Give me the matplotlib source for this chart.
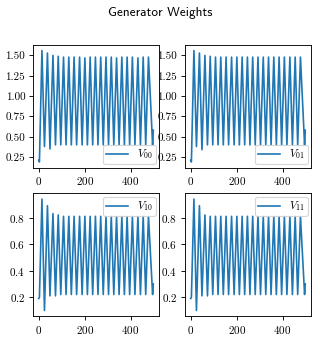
import matplotlib
matplotlib.use('Agg')
import matplotlib.pyplot as plt
from matplotlib.ticker import MultipleLocator, FormatStrFormatter

plt.rcParams['font.family'] = ['cmr10']
plt.rcParams['mathtext.fontset'] = 'cm'
plt.rcParams['axes.formatter.use_mathtext'] = True

# training steps at the turning points of the weight curves
steps = [0, 3, 14, 25, 38, 49, 62, 73, 85, 96, 108, 119, 131, 142, 154, 165,
         178, 189, 201, 212, 224, 235, 247, 258, 270, 281, 293, 304, 316, 327,
         339, 350, 362, 373, 385, 396, 408, 419, 432, 443, 455, 466, 478, 496, 499]

v00 = [0.21, 0.19,
       1.56, 0.38, 1.53, 0.35, 1.50, 0.40, 1.49, 0.40, 1.48, 0.40, 1.48, 0.40,
       1.48, 0.40, 1.48, 0.40, 1.47, 0.40, 1.48, 0.40, 1.48, 0.40, 1.48, 0.40,
       1.48, 0.40, 1.48, 0.40, 1.47, 0.40, 1.48, 0.40, 1.48, 0.40, 1.48, 0.40,
       1.47, 0.40, 1.48, 0.40, 1.48, 0.40,
       0.58]
v01 = [0.21, 0.19,
       1.56, 0.38, 1.53, 0.34, 1.50, 0.40, 1.49, 0.40, 1.48, 0.40, 1.48, 0.40,
       1.48, 0.40, 1.48, 0.40, 1.48, 0.40, 1.48, 0.40, 1.48, 0.40, 1.48, 0.40,
       1.48, 0.40, 1.48, 0.40, 1.48, 0.40, 1.48, 0.40, 1.48, 0.40, 1.48, 0.40,
       1.48, 0.40, 1.48, 0.40, 1.48, 0.40,
       0.58]
v10 = [0.19, 0.20,
       0.94, 0.10, 0.89, 0.21, 0.83, 0.21, 0.82, 0.22, 0.81, 0.22, 0.81, 0.22,
       0.81, 0.22, 0.81, 0.22, 0.81, 0.22, 0.81, 0.22, 0.81, 0.22, 0.81, 0.22,
       0.81, 0.22, 0.81, 0.22, 0.81, 0.22, 0.81, 0.22, 0.81, 0.22, 0.81, 0.22,
       0.81, 0.22, 0.81, 0.22, 0.81, 0.22,
       0.30]
v11 = [0.19, 0.20,
       0.94, 0.10, 0.89, 0.21, 0.82, 0.21, 0.81, 0.22, 0.81, 0.22, 0.81, 0.22,
       0.81, 0.22, 0.81, 0.22, 0.81, 0.22, 0.81, 0.22, 0.81, 0.22, 0.81, 0.22,
       0.81, 0.22, 0.81, 0.22, 0.81, 0.22, 0.81, 0.22, 0.81, 0.22, 0.81, 0.22,
       0.81, 0.22, 0.81, 0.22, 0.81, 0.22,
       0.30]

series = [v00, v01, v10, v11]
labels = [r'$V_{00}$', r'$V_{01}$', r'$V_{10}$', r'$V_{11}$']
legend_locs = ['lower right', 'lower right', 'upper right', 'upper right']

fig, axes = plt.subplots(2, 2, figsize=(4, 4.25), dpi=80)
fig.subplots_adjust(left=33/320, right=311/320, top=1-45/340, bottom=1-316/340,
                    wspace=0.206, hspace=0.212)

for i, (ax, vals, lab, loc) in enumerate(zip(axes.flat, series, labels, legend_locs)):
    ax.plot(steps, vals, label=lab)
    ax.legend(loc=loc, fontsize=10, borderpad=0.25, borderaxespad=0.3)
    if i < 2:
        ax.yaxis.set_major_locator(MultipleLocator(0.25))
        ax.yaxis.set_major_formatter(FormatStrFormatter('%.2f'))

fig.suptitle('Generator Weights', family='cmss10')

fig.savefig('out.png', dpi=80)
